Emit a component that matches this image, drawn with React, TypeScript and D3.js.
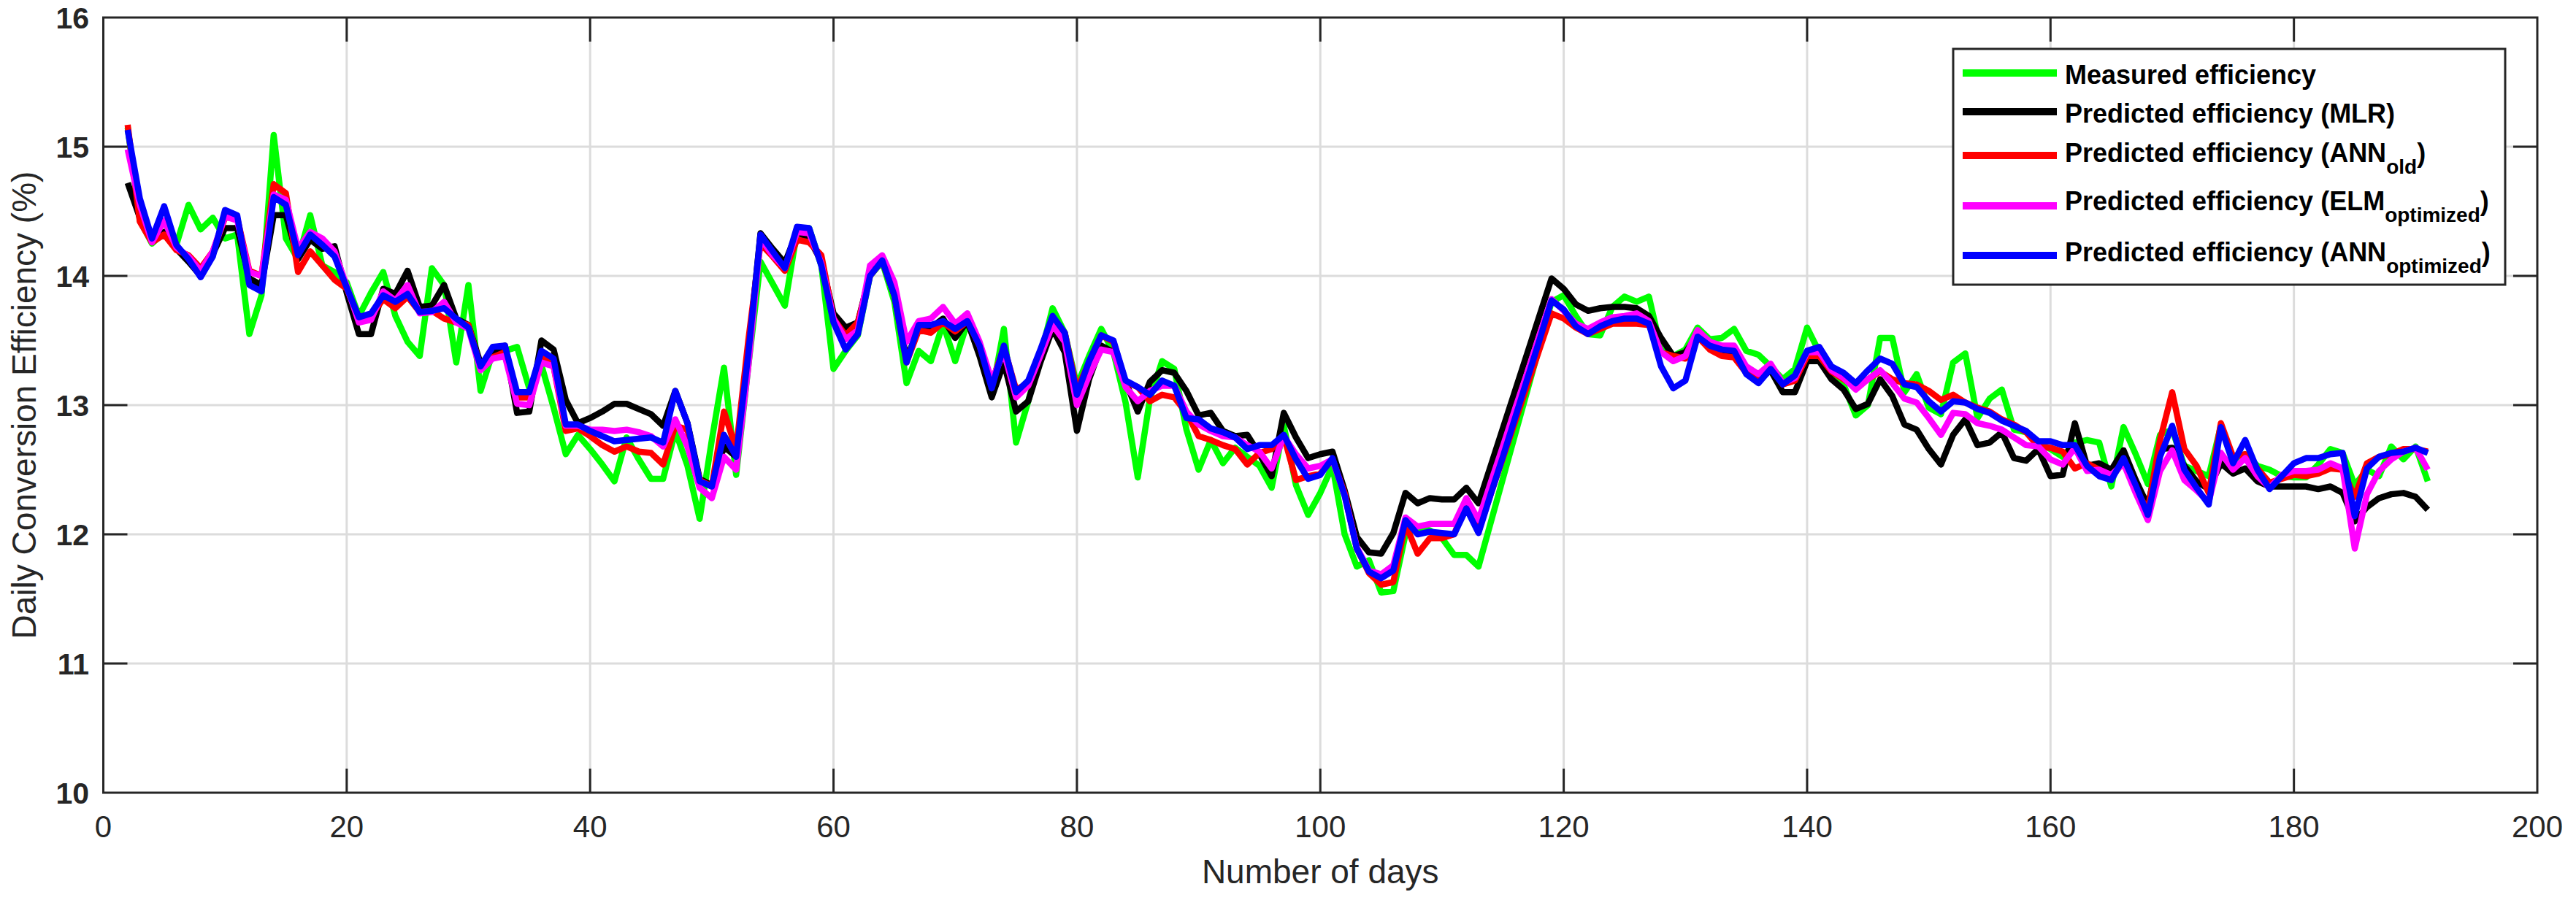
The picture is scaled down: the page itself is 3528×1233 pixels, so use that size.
import React from "react";
import * as d3 from "d3";

const W = 3528;
const H = 1233;

const firstDay = 2;

const measured = [
  15.15, 14.43, 14.25, 14.34, 14.24, 14.55, 14.36, 14.45, 14.29, 14.32,
  13.55, 13.85, 15.09, 14.29, 14.13, 14.47, 14.08, 14.03, 13.95, 13.69,
  13.87, 14.03, 13.69, 13.49, 13.38, 14.06, 13.93, 13.33, 13.93, 13.11,
  13.41, 13.42, 13.45, 13.13, 13.31, 12.98, 12.62, 12.77, 12.66, 12.54,
  12.41, 12.75, 12.58, 12.43, 12.43, 12.80, 12.53, 12.12, 12.73, 13.29,
  12.46, 13.30, 14.11, 13.94, 13.77, 14.34, 14.37, 14.08, 13.28, 13.42,
  13.54, 14.00, 14.11, 13.80, 13.17, 13.42, 13.34, 13.63, 13.34, 13.64,
  13.41, 13.08, 13.59, 12.71, 13.03, 13.38, 13.75, 13.56, 13.15, 13.38,
  13.59, 13.41, 13.02, 12.44, 13.05, 13.34, 13.28, 12.81, 12.50, 12.73,
  12.55, 12.67, 12.60, 12.53, 12.36, 12.84, 12.38, 12.15, 12.32, 12.53,
  12.00, 11.75, 11.80, 11.55, 11.56, 12.00, 12.05, 12.03, 11.97, 11.84,
  11.84, 11.75, 12.09, 12.43, 12.77, 13.11, 13.45, 13.80, 13.85, 13.69,
  13.55, 13.54, 13.76, 13.84, 13.80, 13.84, 13.43, 13.38, 13.43, 13.60,
  13.51, 13.52, 13.59, 13.42, 13.39, 13.30, 13.20, 13.28, 13.60, 13.41,
  13.23, 13.16, 12.92, 13.00, 13.52, 13.52, 13.10, 13.24, 12.98, 12.93,
  13.33, 13.40, 12.90, 13.05, 13.12, 12.81, 12.79, 12.71, 12.66, 12.60,
  12.71, 12.73, 12.71, 12.37, 12.83, 12.62, 12.39, 12.77, 12.81, 12.53,
  12.49, 12.45, 12.84, 12.58, 12.62, 12.53, 12.50, 12.45, 12.44, 12.44,
  12.54, 12.66, 12.63, 12.38, 12.50, 12.45, 12.68, 12.58, 12.68, 12.41,
];

const mlr = [
  14.72, 14.45, 14.28, 14.34, 14.21, 14.11, 14.00, 14.17, 14.37, 14.37,
  13.98, 13.93, 14.47, 14.47, 14.13, 14.28, 14.21, 14.23, 13.87, 13.55,
  13.55, 13.90, 13.86, 14.04, 13.76, 13.77, 13.93, 13.67, 13.62, 13.32,
  13.41, 13.46, 12.94, 12.95, 13.50, 13.43, 13.04, 12.86, 12.90, 12.95,
  13.01, 13.01, 12.97, 12.93, 12.84, 13.11, 12.86, 12.43, 12.38, 12.68,
  12.60, 13.40, 14.33, 14.21, 14.10, 14.34, 14.29, 14.11, 13.71, 13.60,
  13.64, 14.02, 14.12, 13.85, 13.36, 13.59, 13.60, 13.67, 13.52, 13.65,
  13.38, 13.06, 13.33, 12.95, 13.03, 13.33, 13.59, 13.41, 12.80, 13.20,
  13.46, 13.41, 13.18, 12.95, 13.18, 13.27, 13.25, 13.11, 12.92, 12.94,
  12.80, 12.76, 12.77, 12.62, 12.45, 12.94, 12.75, 12.59, 12.62, 12.64,
  12.34, 11.98, 11.86, 11.85, 12.01, 12.32, 12.24, 12.28, 12.27, 12.27,
  12.36, 12.24, 12.53, 12.82, 13.11, 13.40, 13.69, 13.98, 13.90, 13.78,
  13.73, 13.75, 13.76, 13.76, 13.75, 13.69, 13.52, 13.38, 13.41, 13.54,
  13.45, 13.40, 13.38, 13.25, 13.19, 13.27, 13.10, 13.10, 13.34, 13.34,
  13.20, 13.12, 12.97, 13.01, 13.20, 13.07, 12.85, 12.81, 12.66, 12.54,
  12.77, 12.89, 12.69, 12.71, 12.79, 12.59, 12.57, 12.66, 12.45, 12.46,
  12.86, 12.53, 12.55, 12.50, 12.65, 12.42, 12.22, 12.66, 12.67, 12.53,
  12.41, 12.35, 12.55, 12.47, 12.51, 12.41, 12.37, 12.37, 12.37, 12.37,
  12.35, 12.37, 12.32, 12.10, 12.21, 12.28, 12.31, 12.32, 12.29, 12.19,
];

const annOld = [
  15.17, 14.42, 14.26, 14.32, 14.20, 14.16, 14.06, 14.19, 14.45, 14.45,
  14.04, 14.00, 14.71, 14.64, 14.03, 14.19, 14.08, 13.97, 13.90, 13.68,
  13.69, 13.82, 13.75, 13.84, 13.72, 13.73, 13.67, 13.64, 13.62, 13.29,
  13.37, 13.41, 13.06, 13.06, 13.38, 13.30, 12.80, 12.82, 12.76, 12.69,
  12.64, 12.68, 12.64, 12.63, 12.54, 12.84, 12.81, 12.42, 12.37, 12.95,
  12.66, 13.50, 14.25, 14.15, 14.04, 14.28, 14.26, 14.16, 13.67, 13.54,
  13.64, 14.00, 14.12, 13.85, 13.33, 13.58, 13.56, 13.64, 13.57, 13.65,
  13.46, 13.17, 13.45, 13.12, 13.17, 13.41, 13.67, 13.56, 13.12, 13.33,
  13.54, 13.49, 13.18, 13.14, 13.03, 13.08, 13.06, 12.94, 12.76, 12.73,
  12.69, 12.66, 12.54, 12.63, 12.66, 12.76, 12.42, 12.45, 12.47, 12.58,
  12.32, 11.89, 11.70, 11.61, 11.63, 12.08, 11.85, 11.97, 11.97, 12.00,
  12.24, 12.03, 12.31, 12.59, 12.87, 13.15, 13.43, 13.71, 13.67, 13.60,
  13.55, 13.59, 13.63, 13.63, 13.63, 13.62, 13.41, 13.38, 13.36, 13.53,
  13.43, 13.38, 13.37, 13.25, 13.21, 13.30, 13.16, 13.19, 13.38, 13.38,
  13.26, 13.20, 13.14, 13.20, 13.26, 13.20, 13.17, 13.16, 13.11, 13.04,
  13.08, 13.02, 12.98, 12.95, 12.89, 12.85, 12.79, 12.68, 12.67, 12.64,
  12.51, 12.55, 12.50, 12.44, 12.56, 12.34, 12.19, 12.73, 13.10, 12.66,
  12.53, 12.32, 12.86, 12.60, 12.62, 12.51, 12.40, 12.43, 12.46, 12.45,
  12.47, 12.51, 12.50, 12.29, 12.55, 12.60, 12.62, 12.66, 12.66, 12.64,
];

const elmOpt = [
  14.98, 14.55, 14.26, 14.43, 14.22, 14.15, 14.04, 14.19, 14.46, 14.43,
  14.03, 14.00, 14.63, 14.59, 14.21, 14.34, 14.29, 14.19, 13.92, 13.64,
  13.66, 13.88, 13.81, 13.93, 13.71, 13.72, 13.80, 13.64, 13.59, 13.27,
  13.36, 13.38, 13.01, 13.00, 13.33, 13.30, 12.84, 12.84, 12.81, 12.81,
  12.80, 12.81, 12.79, 12.76, 12.68, 12.89, 12.68, 12.36, 12.28, 12.60,
  12.50, 13.30, 14.29, 14.16, 14.06, 14.34, 14.33, 14.10, 13.67, 13.51,
  13.58, 14.08, 14.16, 13.95, 13.49, 13.65, 13.67, 13.76, 13.63, 13.71,
  13.49, 13.19, 13.41, 13.06, 13.15, 13.38, 13.62, 13.49, 13.00, 13.23,
  13.43, 13.41, 13.14, 13.03, 13.11, 13.15, 13.15, 12.95, 12.85, 12.80,
  12.76, 12.75, 12.69, 12.64, 12.51, 12.76, 12.62, 12.51, 12.53, 12.58,
  12.30, 11.90, 11.72, 11.69, 11.76, 12.13, 12.06, 12.08, 12.08, 12.08,
  12.28, 12.11, 12.40, 12.68, 12.97, 13.25, 13.54, 13.82, 13.73, 13.63,
  13.59, 13.64, 13.68, 13.69, 13.71, 13.65, 13.41, 13.34, 13.38, 13.58,
  13.49, 13.46, 13.46, 13.30, 13.24, 13.32, 13.17, 13.21, 13.41, 13.41,
  13.27, 13.21, 13.12, 13.20, 13.27, 13.17, 13.05, 13.02, 12.90, 12.77,
  12.94, 12.93, 12.86, 12.84, 12.81, 12.75, 12.69, 12.68, 12.58, 12.54,
  12.67, 12.49, 12.50, 12.46, 12.55, 12.32, 12.11, 12.49, 12.65, 12.42,
  12.34, 12.25, 12.63, 12.50, 12.59, 12.45, 12.36, 12.46, 12.49, 12.49,
  12.50, 12.55, 12.51, 11.89, 12.31, 12.49, 12.58, 12.64, 12.67, 12.50,
];

const annOpt = [
  15.13, 14.60, 14.29, 14.54, 14.24, 14.13, 13.99, 14.15, 14.51, 14.47,
  13.93, 13.88, 14.61, 14.55, 14.16, 14.32, 14.24, 14.15, 13.91, 13.68,
  13.71, 13.85, 13.80, 13.86, 13.72, 13.73, 13.75, 13.67, 13.60, 13.30,
  13.45, 13.46, 13.10, 13.10, 13.42, 13.36, 12.85, 12.85, 12.80, 12.76,
  12.72, 12.73, 12.74, 12.75, 12.71, 13.11, 12.86, 12.41, 12.37, 12.77,
  12.60, 13.40, 14.32, 14.19, 14.06, 14.38, 14.37, 14.08, 13.64, 13.43,
  13.55, 14.00, 14.12, 13.85, 13.33, 13.62, 13.62, 13.65, 13.59, 13.65,
  13.46, 13.13, 13.46, 13.10, 13.19, 13.43, 13.69, 13.56, 13.08, 13.34,
  13.54, 13.50, 13.19, 13.14, 13.08, 13.19, 13.15, 12.90, 12.89, 12.82,
  12.79, 12.75, 12.66, 12.69, 12.69, 12.77, 12.58, 12.43, 12.46, 12.59,
  12.30, 11.89, 11.71, 11.66, 11.72, 12.11, 12.00, 12.02, 12.01, 12.00,
  12.20, 12.01, 12.31, 12.60, 12.90, 13.20, 13.50, 13.81, 13.74, 13.61,
  13.55, 13.61, 13.65, 13.67, 13.67, 13.63, 13.30, 13.13, 13.19, 13.53,
  13.46, 13.43, 13.42, 13.24, 13.17, 13.28, 13.16, 13.23, 13.42, 13.45,
  13.30, 13.25, 13.17, 13.27, 13.36, 13.32, 13.16, 13.14, 13.03, 12.95,
  13.03, 13.02, 12.97, 12.94, 12.88, 12.84, 12.80, 12.72, 12.72, 12.69,
  12.69, 12.53, 12.45, 12.42, 12.59, 12.38, 12.15, 12.60, 12.84, 12.50,
  12.36, 12.23, 12.83, 12.55, 12.73, 12.50, 12.35, 12.45, 12.55, 12.59,
  12.59, 12.62, 12.63, 12.14, 12.51, 12.60, 12.63, 12.64, 12.67, 12.63,
];

const xTicks = [0, 20, 40, 60, 80, 100, 120, 140, 160, 180, 200];
const yTicks = [10, 11, 12, 13, 14, 15, 16];

const seriesNames = [
  { main: "Measured efficiency", sub: "", tail: "" },
  { main: "Predicted efficiency (MLR)", sub: "", tail: "" },
  { main: "Predicted efficiency (ANN", sub: "old", tail: ")" },
  { main: "Predicted efficiency (ELM", sub: "optimized", tail: ")" },
  { main: "Predicted efficiency (ANN", sub: "optimized", tail: ")" },
];
const seriesColors = ["#00ff00", "#000000", "#ff0000", "#ff00ff", "#0000ff"];
const seriesData = [measured, mlr, annOld, elmOpt, annOpt];

const FONT = "'Liberation Sans', Arial, Helvetica, sans-serif";
const AX = "#262626";

export default function App() {
  const left = 141.5, right = 3475, top = 24, bottom = 1086;
  const x = d3.scaleLinear().domain([0, 200]).range([left, right]);
  const y = d3.scaleLinear().domain([10, 16]).range([bottom, top]);
  const line = d3
    .line<number>()
    .x((_, i) => x(firstDay + i))
    .y((v) => y(v));
  const tickLen = 33;

  const legLeft = 2675, legTop = 67, legRight = 3431, legBottom = 390;
  const legLineY = [100, 153, 213, 282, 350];
  const legBase = [115, 168, 222, 288, 358];

  return (
    <svg
      width={W}
      height={H}
      style={{ position: "absolute", left: 0, top: 0, background: "#fff" }}
      fontFamily={FONT}
    >
      <rect x={0} y={0} width={W} height={H} fill="#fff" />
      {/* grid */}
      {xTicks.slice(1, -1).map((t) => (
        <line key={"gx" + t} x1={x(t)} x2={x(t)} y1={top} y2={bottom} stroke="#dcdcdc" strokeWidth={3} />
      ))}
      {yTicks.slice(1, -1).map((t) => (
        <line key={"gy" + t} x1={left} x2={right} y1={y(t)} y2={y(t)} stroke="#dcdcdc" strokeWidth={3} />
      ))}
      {/* series */}
      {seriesData.map((s, i) => (
        <path
          key={"s" + i}
          d={line(s) || ""}
          fill="none"
          stroke={seriesColors[i]}
          strokeWidth={8.5}
          strokeLinejoin="round"
          strokeLinecap="butt"
        />
      ))}
      {/* axes box */}
      <rect x={left} y={top} width={right - left} height={bottom - top} fill="none" stroke={AX} strokeWidth={3} />
      {xTicks.slice(1, -1).map((t) => (
        <g key={"tx" + t}>
          <line x1={x(t)} x2={x(t)} y1={bottom} y2={bottom - tickLen} stroke={AX} strokeWidth={3} />
          <line x1={x(t)} x2={x(t)} y1={top} y2={top + tickLen} stroke={AX} strokeWidth={3} />
        </g>
      ))}
      {yTicks.slice(1, -1).map((t) => (
        <g key={"ty" + t}>
          <line x1={left} x2={left + tickLen} y1={y(t)} y2={y(t)} stroke={AX} strokeWidth={3} />
          <line x1={right} x2={right - tickLen} y1={y(t)} y2={y(t)} stroke={AX} strokeWidth={3} />
        </g>
      ))}
      {/* tick labels */}
      {xTicks.map((t) => (
        <text key={"lx" + t} x={x(t)} y={1147} textAnchor="middle" fontSize={42} fill={AX}>
          {t}
        </text>
      ))}
      {yTicks.map((t) => (
        <text key={"ly" + t} x={122} y={y(t)} dy="0.36em" textAnchor="end" fontSize={41} fontWeight="bold" fill={AX}>
          {t}
        </text>
      ))}
      {/* axis labels */}
      <text x={(left + right) / 2} y={1210} textAnchor="middle" fontSize={46} fill={AX}>
        Number of days
      </text>
      <text
        transform={`translate(49, ${(top + bottom) / 2}) rotate(-90)`}
        textAnchor="middle"
        fontSize={46}
        fill={AX}
      >
        Daily Conversion Efficiency (%)
      </text>
      {/* legend */}
      <rect x={legLeft} y={legTop} width={legRight - legLeft} height={legBottom - legTop} fill="#fff" stroke={AX} strokeWidth={3} />
      {seriesNames.map((n, i) => (
        <g key={"lg" + i}>
          <line x1={2688} x2={2817} y1={legLineY[i]} y2={legLineY[i]} stroke={seriesColors[i]} strokeWidth={10} />
          <text x={2828} y={legBase[i]} fontSize={36} fontWeight="bold" fill="#000">
            {n.main}
            {n.sub ? (
              <tspan fontSize={28} dy={16}>
                {n.sub}
              </tspan>
            ) : null}
            {n.tail ? <tspan dy={-16}>{n.tail}</tspan> : null}
          </text>
        </g>
      ))}
    </svg>
  );
}
